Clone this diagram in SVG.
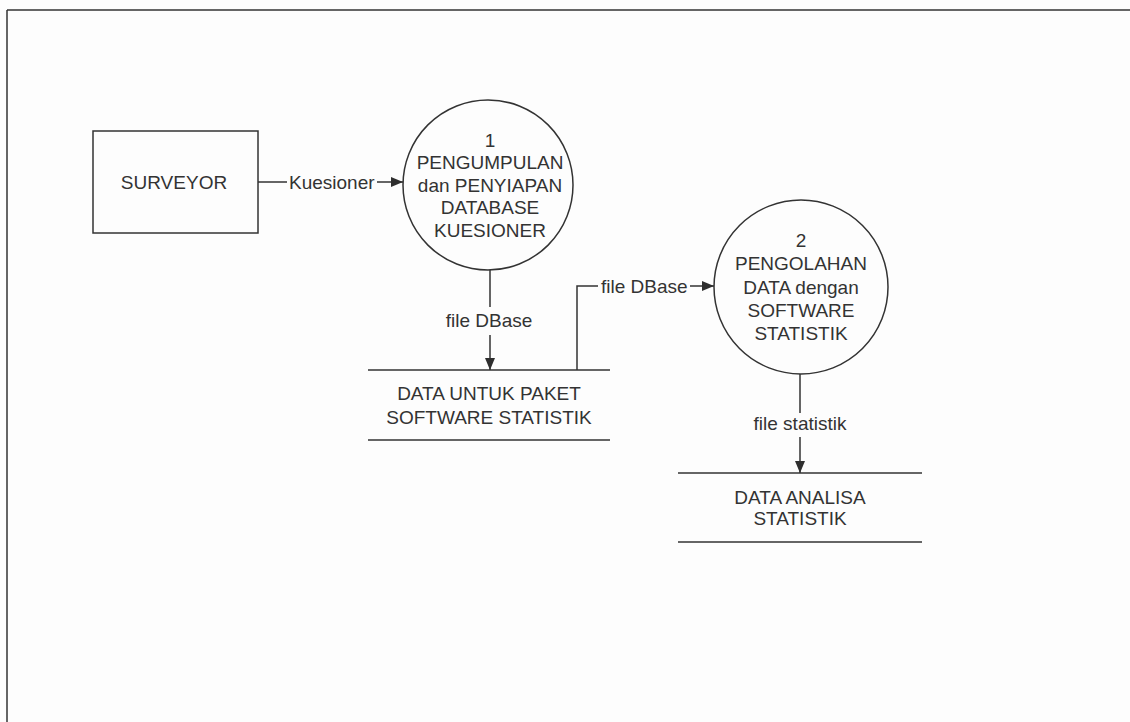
<svg xmlns="http://www.w3.org/2000/svg" width="1130" height="722" viewBox="0 0 1130 722">
  <defs>
    <marker id="arrow" viewBox="0 0 12 10" refX="12" refY="5" markerWidth="12" markerHeight="10" markerUnits="userSpaceOnUse" orient="auto">
      <path d="M0,0 L12,5 L0,10 Z" fill="#2e2e2e"/>
    </marker>
    <style>
      .ln { stroke: #333; stroke-width: 1.5; fill: none; }
      .shape { stroke: #333; stroke-width: 1.5; fill: none; }
      .t { font-family: "Liberation Sans", Arial, sans-serif; font-size: 19px; fill: #333; text-anchor: middle; }
      .tl { font-family: "Liberation Sans", Arial, sans-serif; font-size: 19px; fill: #333; text-anchor: start; }
    </style>
  </defs>

  <rect x="0" y="0" width="1130" height="722" fill="#fdfdfd"/>

  <!-- page frame -->
  <g id="frame">
    <line class="ln" x1="7" y1="10" x2="1130" y2="10"/>
    <line class="ln" x1="7" y1="10" x2="7" y2="722"/>
  </g>

  <!-- external entity -->
  <g id="surveyor">
    <rect class="shape" x="93" y="131" width="165" height="102"/>
    <text class="t" x="174" y="189">SURVEYOR</text>
  </g>

  <!-- process 1 -->
  <g id="process-1">
    <circle class="shape" cx="488" cy="185" r="85"/>
    <text class="t" x="490" y="147">1</text>
    <text class="t" x="490" y="169">PENGUMPULAN</text>
    <text class="t" x="490" y="192">dan PENYIAPAN</text>
    <text class="t" x="490" y="214">DATABASE</text>
    <text class="t" x="490" y="237">KUESIONER</text>
  </g>

  <!-- process 2 -->
  <g id="process-2">
    <circle class="shape" cx="801" cy="287" r="87"/>
    <text class="t" x="801" y="247">2</text>
    <text class="t" x="801" y="270">PENGOLAHAN</text>
    <text class="t" x="801" y="294">DATA dengan</text>
    <text class="t" x="801" y="317">SOFTWARE</text>
    <text class="t" x="801" y="340">STATISTIK</text>
  </g>

  <!-- data store 1 -->
  <g id="store-1">
    <line class="ln" x1="368" y1="370" x2="610" y2="370"/>
    <line class="ln" x1="368" y1="440" x2="610" y2="440"/>
    <text class="t" x="489" y="400">DATA UNTUK PAKET</text>
    <text class="t" x="489" y="424">SOFTWARE STATISTIK</text>
  </g>

  <!-- data store 2 -->
  <g id="store-2">
    <line class="ln" x1="678" y1="473" x2="922" y2="473"/>
    <line class="ln" x1="678" y1="542" x2="922" y2="542"/>
    <text class="t" x="800" y="504">DATA ANALISA</text>
    <text class="t" x="800" y="525">STATISTIK</text>
  </g>

  <!-- data flows -->
  <g id="connectors">
    <!-- Kuesioner -->
    <line class="ln" x1="258" y1="182" x2="287" y2="182"/>
    <text class="tl" x="289" y="189">Kuesioner</text>
    <line class="ln" x1="377" y1="182" x2="403" y2="182" marker-end="url(#arrow)"/>

    <!-- file DBase down to store 1 -->
    <line class="ln" x1="490" y1="270" x2="490" y2="307"/>
    <text class="t" x="489" y="327">file DBase</text>
    <line class="ln" x1="490" y1="335" x2="490" y2="370" marker-end="url(#arrow)"/>

    <!-- file DBase from store 1 to process 2 -->
    <polyline class="ln" points="577,370 577,286 598,286"/>
    <text class="tl" x="601" y="293">file DBase</text>
    <line class="ln" x1="690" y1="286" x2="714" y2="286" marker-end="url(#arrow)"/>

    <!-- file statistik -->
    <line class="ln" x1="800" y1="374" x2="800" y2="413"/>
    <text class="t" x="800" y="430">file statistik</text>
    <line class="ln" x1="800" y1="437" x2="800" y2="473" marker-end="url(#arrow)"/>
  </g>
</svg>
